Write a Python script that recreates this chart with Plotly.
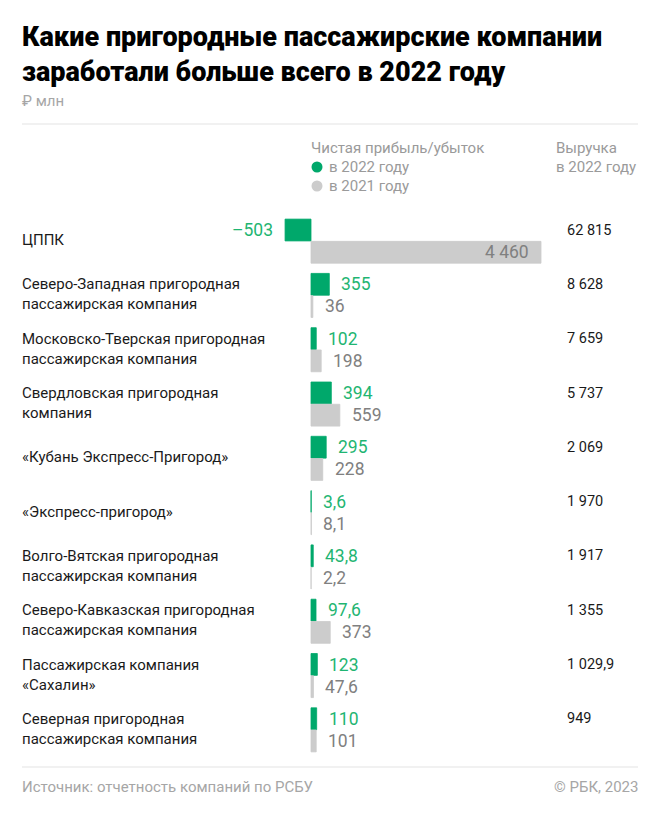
import plotly.graph_objects as go

# data (RUB mln)
companies = [
    "ЦППК",
    "Северо-Западная пригородная<br>пассажирская компания",
    "Московско-Тверская пригородная<br>пассажирская компания",
    "Свердловская пригородная<br>компания",
    "«Кубань Экспресс-Пригород»",
    "«Экспресс-пригород»",
    "Волго-Вятская пригородная<br>пассажирская компания",
    "Северо-Кавказская пригородная<br>пассажирская компания",
    "Пассажирская компания<br>«Сахалин»",
    "Северная пригородная<br>пассажирская компания",
]
profit_2022 = [-503, 355, 102, 394, 295, 3.6, 43.8, 97.6, 123, 110]
profit_2021 = [4460, 36, 198, 559, 228, 8.1, 2.2, 373, 47.6, 101]
revenue_2022 = [62815, 8628, 7659, 5737, 2069, 1970, 1917, 1355, 1029.9, 949]

W, H = 660, 818
GREEN = "#00a86b"
GREEN_TXT = "#1fb572"
GREY = "#cccccc"
GREY_TXT = "#808080"
FONT = "Roboto"


def fmt(v):
    if float(v).is_integer():
        s = f"{abs(int(v)):,}".replace(",", " ")
    else:
        s = f"{abs(v):,.1f}".replace(",", " ").replace(".", ",")
    return ("–" if v < 0 else "") + s


def px(p):
    return p / W


def py(p):
    return 1 - p / H


# horizontal scale: zero at x=311px, 4460 reaches 541px
unit = 4460 / 230
x_range = [-311 * unit, (W - 311) * unit]

fig = go.Figure()
fig.add_trace(go.Bar(
    y=companies, x=profit_2022, orientation="h", name="в 2022 году",
    marker=dict(color=GREEN, line=dict(color=GREEN, width=0.8)),
    hoverinfo="skip",
))
fig.add_trace(go.Bar(
    y=companies, x=profit_2021, orientation="h", name="в 2021 году",
    marker=dict(color=GREY, line=dict(color=GREY, width=0.8)),
    hoverinfo="skip",
))

ann = []
for name, g, r, rev in zip(companies, profit_2022, profit_2021, revenue_2022):
    ann.append(dict(x=px(20), xref="paper", y=name, yref="y", text=name,
                    xanchor="left", yanchor="middle", align="left", yshift=1,
                    font=dict(size=15, color="#1a1a1a")))
    ann.append(dict(x=px(565), xref="paper", y=name, yref="y", text=fmt(rev),
                    xanchor="left", yanchor="middle", yshift=11,
                    font=dict(size=14.5, color="#1a1a1a")))
    if g < 0:
        ann.append(dict(x=g, y=name, text=fmt(g), xanchor="right", xshift=-10,
                        yshift=11, font=dict(size=17.5, color=GREEN_TXT)))
    else:
        ann.append(dict(x=g, y=name, text=fmt(g), xanchor="left", xshift=10,
                        yshift=11, font=dict(size=17.5, color=GREEN_TXT)))
    if r > 2000:
        ann.append(dict(x=r, y=name, text=fmt(r), xanchor="right", xshift=-10,
                        yshift=-11, font=dict(size=17.5, color=GREY_TXT)))
    else:
        ann.append(dict(x=max(r, 0), y=name, text=fmt(r), xanchor="left", xshift=10,
                        yshift=-11, font=dict(size=17.5, color=GREY_TXT)))

# header texts
ann += [
    dict(x=px(20), y=py(55), text="Какие пригородные пассажирские компании<br>заработали больше всего в 2022 году",
         xanchor="left", yanchor="middle", align="left",
         font=dict(size=27, color="#000000", family=FONT, weight=900)),
    dict(x=px(20), y=py(101), text="₽ млн", xanchor="left", yanchor="middle",
         font=dict(size=15, color="#a6a6a6")),
    dict(x=px(309), y=py(148), text="Чистая прибыль/убыток", xanchor="left", yanchor="middle",
         font=dict(size=15, color="#9a9a9a")),
    dict(x=px(327), y=py(167), text="в 2022 году", xanchor="left", yanchor="middle",
         font=dict(size=15, color="#9a9a9a")),
    dict(x=px(327), y=py(186), text="в 2021 году", xanchor="left", yanchor="middle",
         font=dict(size=15, color="#9a9a9a")),
    dict(x=px(554), y=py(148), text="Выручка", xanchor="left", yanchor="middle",
         font=dict(size=15, color="#9a9a9a")),
    dict(x=px(554), y=py(167), text="в 2022 году", xanchor="left", yanchor="middle",
         font=dict(size=15, color="#9a9a9a")),
    dict(x=px(20), y=py(787), text="Источник: отчетность компаний по РСБУ",
         xanchor="left", yanchor="middle", font=dict(size=15, color="#a6a6a6")),
    dict(x=px(640), y=py(787), text="© РБК, 2023",
         xanchor="right", yanchor="middle", font=dict(size=15, color="#a6a6a6")),
]
for a in ann[-9:]:
    a["xref"] = "paper"
    a["yref"] = "paper"
for a in ann:
    a["showarrow"] = False

shapes = [
    dict(type="line", xref="paper", yref="paper", x0=px(22), x1=px(638), y0=py(124), y1=py(124),
         line=dict(color="#e3e3e3", width=1)),
    dict(type="line", xref="paper", yref="paper", x0=px(22), x1=px(638), y0=py(767), y1=py(767),
         line=dict(color="#e3e3e3", width=1)),
    dict(type="circle", xref="paper", yref="paper", x0=px(311.5), x1=px(322.5), y0=py(161.5), y1=py(172.5),
         fillcolor=GREEN, line=dict(width=0)),
    dict(type="circle", xref="paper", yref="paper", x0=px(311.5), x1=px(322.5), y0=py(180.5), y1=py(191.5),
         fillcolor=GREY, line=dict(width=0)),
]

fig.update_layout(
    width=W, height=H,
    margin=dict(l=0, r=0, t=0, b=0),
    paper_bgcolor="white", plot_bgcolor="white",
    font=dict(family=FONT, color="#1a1a1a"),
    barmode="group", bargap=0.18, bargroupgap=0.02,
    showlegend=False,
    xaxis=dict(range=x_range, visible=False, fixedrange=True),
    yaxis=dict(domain=[py(757), py(214)], autorange="reversed", visible=False, fixedrange=True),
    annotations=ann,
    shapes=shapes,
)

fig.write_html("out.html", config={"displayModeBar": False},
               post_script="document.body.style.margin='0';")
